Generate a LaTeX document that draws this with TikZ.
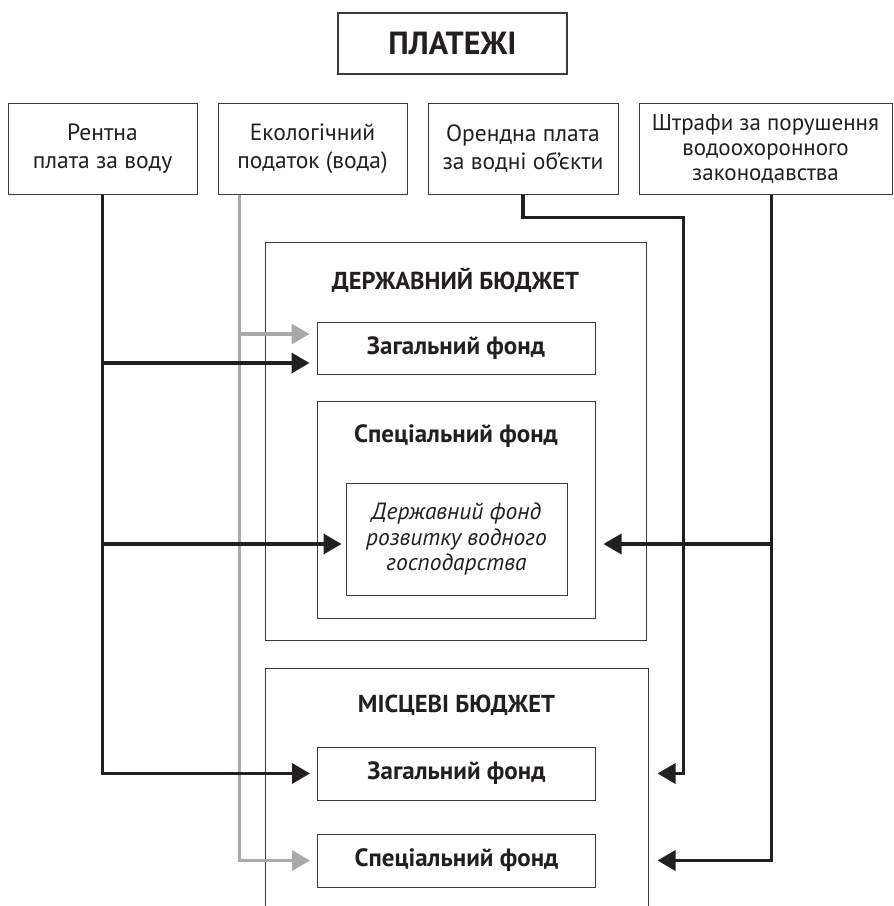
\documentclass[tikz,border=0pt]{standalone}
\usepackage{fontspec}
\setmainfont{PT Sans}
\usetikzlibrary{arrows.meta}
\definecolor{ink}{HTML}{231F20}
\definecolor{boxc}{HTML}{3A3A3A}
\definecolor{grayc}{HTML}{A7A9AC}
\begin{document}
\begin{tikzpicture}[x=1pt,y=-1pt,
    box/.style={draw=boxc,line width=1pt,inner sep=0pt,align=center,text=ink},
    top/.style={box,font=\fontsize{23.5}{28}\selectfont,minimum height=91pt},
    fund/.style={box,font=\fontsize{25}{28}\selectfont\bfseries,minimum width=278pt},
    head/.style={font=\fontsize{24.5}{28}\selectfont\bfseries,text=ink,anchor=base,inner sep=0pt},
    blk/.style={draw=ink,line width=3.5pt,-{Triangle[length=18pt,width=20pt]}},
    gry/.style={blk,draw=grayc}]
    \useasboundingbox (0,0) rectangle (894,906);
    \clip (0,0) rectangle (894,906);
    \node[box,line width=2pt,minimum width=229pt,minimum height=61pt,
      font=\fontsize{32}{36}\selectfont\bfseries] (title) at (452.5,43.5) {ПЛАТЕЖІ};
    \node[top,minimum width=189pt] (rent) at (102.5,148.5) {Рентна\\плата за воду};
    \node[top,minimum width=189pt] (eco) at (312.5,148.5) {Екологічний\\податок (вода)};
    \node[top,minimum width=190pt] (lease) at (523,148.5) {Орендна плата\\за водні об’єкти};
    \node[top,minimum width=253pt,font=\fontsize{23}{25}\selectfont] (fine) at (765.5,148.5)
      {Штрафи за порушення\\водоохоронного\\законодавства};
    \node[box,minimum width=381pt,minimum height=398pt] (state) at (455.5,441) {};
    \node[head] (statet) at (455.5,289) {ДЕРЖАВНИЙ БЮДЖЕТ};
    \node[fund,minimum height=52pt] (gen1) at (456,348) {Загальний фонд};
    \node[box,minimum width=278pt,minimum height=217pt] (spec1) at (456,509.5) {};
    \node[head,font=\fontsize{25}{28}\selectfont\bfseries] (spec1t) at (456,442) {Спеціальний фонд};
    \node[box,minimum width=221pt,minimum height=112pt,
      font=\fontsize{23.5}{25.5}\selectfont\itshape] (devfund) at (456.5,539)
      {Державний фонд\\розвитку водного\\господарства};
    \node[box,minimum width=383pt,minimum height=264pt] (local) at (456.5,800) {};
    \node[head] (localt) at (456.5,712) {МІСЦЕВІ БЮДЖЕТ};
    \node[fund,minimum height=53pt] (gen2) at (456.5,773.5) {Загальний фонд};
    \node[fund,minimum height=53pt] (spec2) at (456.5,860.5) {Спеціальний фонд};
    \coordinate (lz) at ([shift={(-7pt,-15pt)}]gen1.west);
    \coordinate (lg) at ([shift={(-7pt,14pt)}]gen1.west);
    \coordinate (ld) at ([shift={(-4pt,-5pt)}]devfund.west);
    \path (spec1.east |- ld) ++(8,0) coordinate (rd);
    \path (local.east |- gen2.east) ++(9,0) coordinate (rz);
    \path (local.east |- spec2.east) ++(9,0) coordinate (rs);
    \path (eco.south west) ++(22,0) coordinate (g);
    \path (fine.south) ++(6,0) coordinate (f);
    \path (local.east) ++(35,0) coordinate (o);
    \draw[gry] (g) |- ([xshift=-7pt]spec2.west);
    \draw[gry] (g |- lg) -- (lg);
    \draw[blk] (rent.south) |- ([xshift=-7pt]gen2.west);
    \draw[blk] (rent.south |- lz) -- (lz);
    \draw[blk] (rent.south |- ld) -- (ld);
    \draw[blk] (lease.south) -- ++(0,23) -| (o |- rz) -- (rz);
    \draw[blk] (f) |- (rs);
    \draw[blk] (f |- rd) -- (rd);
\end{tikzpicture}
\end{document}
